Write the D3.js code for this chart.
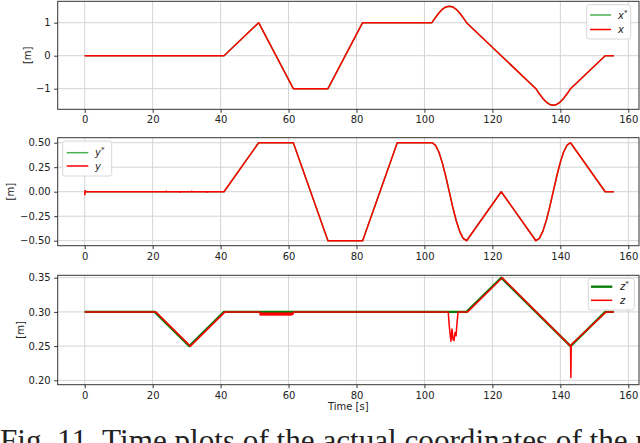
<!DOCTYPE html>
<html><head><meta charset="utf-8">
<script src="https://cdn.jsdelivr.net/npm/d3@7"></script>
<style>
html,body{margin:0;padding:0;background:#fff;overflow:hidden}
svg{display:block}
text{font-family:"DejaVu Sans",sans-serif;fill:#222}
</style></head>
<body>
<svg id="c" width="640" height="443"></svg>
<script>
// ---------- data ----------
const xTicks = [0, 20, 40, 60, 80, 100, 120, 140, 160];
const tXY = [0, 41, 51.2, 61.4, 71.6, 81.8, 92, 102.2, 103.22, 104.24, 105.26, 106.28, 107.3, 108.32, 109.34, 110.36, 111.38, 112.4, 122.6, 132.8, 133.82, 134.84, 135.86, 136.88, 137.9, 138.92, 139.94, 140.96, 141.98, 143, 153.2, 155.8];
const xRef = [0, 0, 1, -1, -1, 1, 1, 1, 1.155, 1.294, 1.405, 1.476, 1.5, 1.476, 1.405, 1.294, 1.155, 1, 0, -1, -1.155, -1.294, -1.405, -1.476, -1.5, -1.476, -1.405, -1.294, -1.155, -1, 0, 0];
const yRef = [0, 0, 0.5, 0.5, -0.5, -0.5, 0.5, 0.5, 0.476, 0.405, 0.294, 0.155, 0, -0.155, -0.294, -0.405, -0.476, -0.5, 0, -0.5, -0.476, -0.405, -0.294, -0.155, 0, 0.155, 0.294, 0.405, 0.476, 0.5, 0, 0];
// actual x equals reference (overlaid)
const xAct = xRef.slice();
// actual y: small start transient and blips
const tYAct = [0, 0.05, 0.15, 0.3, 23.9, 24.0, 24.1, 27.9, 28.0, 28.1, 31.4, 31.5, 31.6, 35.9, 36.0, 36.1, 41, 51.2, 61.4, 71.6, 81.8, 92, 102.2, 103.22, 104.24, 105.26, 106.28, 107.3, 108.32, 109.34, 110.36, 111.38, 112.4, 122.6, 132.8, 133.82, 134.84, 135.86, 136.88, 137.9, 138.92, 139.94, 140.96, 141.98, 143, 153.2, 155.8];
const yAct = [0, -0.03, 0.012, 0, 0, 0.006, 0, 0, -0.006, 0, 0, 0.005, 0, 0, -0.006, 0, 0, 0.5, 0.5, -0.5, -0.5, 0.5, 0.5, 0.476, 0.405, 0.294, 0.155, 0, -0.155, -0.294, -0.405, -0.476, -0.5, 0, -0.5, -0.476, -0.405, -0.294, -0.155, 0, 0.155, 0.294, 0.405, 0.476, 0.5, 0, 0];
const tZ = [0, 20.6, 30.8, 41, 112.4, 122.6, 143, 153.2, 155.8];
const zRef = [0.3, 0.3, 0.25, 0.3, 0.3, 0.35, 0.25, 0.3, 0.3];
const tZAct = [0, 20.9, 31.1, 41.3, 51.5, 51.7,
  51.9, 52.1, 52.3, 52.5, 52.7, 52.9, 53.1, 53.3, 53.5, 53.7, 53.9, 54.1, 54.3, 54.5, 54.7, 54.9, 55.1, 55.3, 55.5, 55.7,
  55.9, 56.1, 56.3, 56.5, 56.7, 56.9, 57.1, 57.3, 57.5, 57.7, 57.9, 58.1, 58.3, 58.5, 58.7, 58.9, 59.1, 59.3, 59.5, 59.7,
  59.9, 60.1, 60.3, 60.5, 60.7, 60.9, 61.1, 61.3, 61.5,
  107.0, 107.3, 107.5, 107.8, 108.1, 108.4, 108.7, 109.0, 109.3, 109.6, 109.9, 112.7, 122.9, 143.0, 143.1, 143.2, 143.4, 153.5, 155.8];
const zAct = [0.3, 0.3, 0.25, 0.3, 0.3, 0.2955,
  0.2985, 0.2955, 0.2985, 0.2955, 0.2985, 0.2955, 0.2985, 0.2955, 0.2985, 0.2955, 0.2985, 0.2955, 0.2985, 0.2955, 0.2985, 0.2955, 0.2985, 0.2955, 0.2985, 0.2955,
  0.2985, 0.2955, 0.2985, 0.2955, 0.2985, 0.2955, 0.2985, 0.2955, 0.2985, 0.2955, 0.2985, 0.2955, 0.2985, 0.2955, 0.2985, 0.2955, 0.2985, 0.2955, 0.2985, 0.2955,
  0.2985, 0.2955, 0.2985, 0.2955, 0.2985, 0.2955, 0.2985, 0.2965, 0.3,
  0.3, 0.28, 0.27, 0.257, 0.275, 0.26, 0.258, 0.27, 0.265, 0.285, 0.3, 0.3, 0.35, 0.25, 0.204, 0.25, 0.253, 0.3, 0.3];
const yTicksTop = [-1, 0, 1];
const yTicksMid = [-0.5, -0.25, 0, 0.25, 0.5];
const yTicksBot = [0.20, 0.25, 0.30, 0.35];

// ---------- layout ----------
const svg = d3.select("#c");
const L = 57.7, R = 639;
const x = d3.scaleLinear().domain([0, 160]).range([84.7, 628.3]);

const panels = [
  {top: 1.3, bot: 109.3, dom: [-1, 1], rng: [88.7, 22.7], ticks: yTicksTop, fmt: d => d3.format("d")(d).replace("-", "\u2212"),
   ref: [tXY, xRef], act: [tXY, xAct], ylabX: 27.7, refColor: "#4caf50", refW: 1.5,
   leg: {x: 586.7, y: 4.7, w: 44, h: 34.3, r1: 15, r2: 29.5, lx1: 590, lx2: 611, tx: 618, sym: "x"}},
  {top: 137.7, bot: 245.7, dom: [-0.5, 0.5], rng: [240.7, 142.7], ticks: yTicksMid, fmt: d => d3.format(".2f")(d).replace("-", "\u2212"),
   ref: [tXY, yRef], act: [tYAct, yAct], ylabX: 10, refColor: "#4caf50", refW: 1.5,
   leg: {x: 62.7, y: 141, w: 49, h: 35, r1: 152.7, r2: 166, lx1: 66.7, lx2: 88.3, tx: 95, sym: "y"}},
  {top: 275.3, bot: 384.7, dom: [0.20, 0.35], rng: [380.3, 277.7], ticks: yTicksBot, fmt: d3.format(".2f"),
   ref: [tZ, zRef], act: [tZAct, zAct], ylabX: 20, refColor: "#007a00", refW: 2.3,
   leg: {x: 588.3, y: 278.3, w: 46, h: 31.7, r1: 286.7, r2: 300.3, lx1: 591, lx2: 612.3, tx: 620, sym: "z"}}
];

panels.forEach((p, i) => {
  const y = d3.scaleLinear().domain(p.dom).range(p.rng);
  const g = svg.append("g");
  const cid = "clip" + i;
  svg.append("clipPath").attr("id", cid).append("rect")
    .attr("x", L).attr("y", p.top).attr("width", R - L).attr("height", p.bot - p.top);
  // grid
  g.selectAll(".gx").data(xTicks).join("line")
    .attr("x1", d => x(d)).attr("x2", d => x(d)).attr("y1", p.top).attr("y2", p.bot)
    .attr("stroke", "#d4d4d4").attr("stroke-width", 1);
  g.selectAll(".gy").data(p.ticks).join("line")
    .attr("y1", d => y(d)).attr("y2", d => y(d)).attr("x1", L).attr("x2", R)
    .attr("stroke", "#d4d4d4").attr("stroke-width", 1);
  // lines
  const mk = (tArr, vArr) => d3.line().x(d => x(tArr[d])).y(d => y(vArr[d]))(d3.range(tArr.length));
  const lg = g.append("g").attr("clip-path", `url(#${cid})`);
  lg.append("path").attr("d", mk(p.ref[0], p.ref[1])).attr("fill", "none")
    .attr("stroke", p.refColor).attr("stroke-width", p.refW).attr("stroke-linejoin", "round");
  lg.append("path").attr("d", mk(p.act[0], p.act[1])).attr("fill", "none")
    .attr("stroke", "#ff0000").attr("stroke-width", 1.5).attr("stroke-linejoin", "round");
  // axes
  const ax = d3.axisBottom(x).tickValues(xTicks).tickSize(3.5).tickPadding(3.5).tickFormat(d3.format("d"));
  const ay = d3.axisLeft(y).tickValues(p.ticks).tickSize(3.5).tickPadding(3.5).tickFormat(p.fmt);
  const gx = g.append("g").attr("transform", `translate(0,${p.bot})`).call(ax);
  const gy = g.append("g").attr("transform", `translate(${L},0)`).call(ay);
  [gx, gy].forEach(a => {
    a.select(".domain").remove();
    a.selectAll("line").attr("stroke", "#333");
    a.selectAll("text").attr("font-size", 10).attr("fill", "#222").style("font-family", "DejaVu Sans");
  });
  // spines
  g.append("rect").attr("x", L).attr("y", p.top).attr("width", R - L).attr("height", p.bot - p.top)
    .attr("fill", "none").attr("stroke", "#333").attr("stroke-width", 1);
  // ylabel
  g.append("text").attr("transform", `translate(${p.ylabX},${(p.top + p.bot) / 2}) rotate(-90)`)
    .attr("text-anchor", "middle").attr("dominant-baseline", "central").attr("font-size", 10).text("[m]");
  // legend
  const lgd = p.leg;
  const leg = g.append("g");
  leg.append("rect").attr("x", lgd.x).attr("y", lgd.y).attr("width", lgd.w).attr("height", lgd.h)
    .attr("rx", 2.5).attr("fill", "rgba(255,255,255,0.85)").attr("stroke", "#d8d8d8").attr("stroke-width", 1);
  [[lgd.r1, p.refColor, p.refW, true], [lgd.r2, "#ff0000", 1.5, false]].forEach(([ry, col, w, star]) => {
    leg.append("line").attr("x1", lgd.lx1).attr("x2", lgd.lx2).attr("y1", ry).attr("y2", ry)
      .attr("stroke", col).attr("stroke-width", w);
    const t = leg.append("text").attr("x", lgd.tx).attr("y", ry + 3.5).attr("font-size", 10);
    t.append("tspan").attr("font-style", "italic").text(lgd.sym);
    if (star) t.append("tspan").attr("font-size", 7).attr("dy", -4).text("*");
  });
});

// xlabel
svg.append("text").attr("x", 348.3).attr("y", 410).attr("text-anchor", "middle").attr("font-size", 10).text("Time [s]");

// caption (cut off at bottom edge, as in the source figure)
const cap = svg.append("text").attr("x", 0).attr("y", 451)
  .style("font-family", "'Liberation Serif', 'Times New Roman', serif").attr("font-size", 30).attr("fill", "#000");
cap.text("Fig. 11. Time plots of the actual coordinates of the");
const w0 = cap.node().getComputedTextLength();
const fs = 30 * 628 / w0;
cap.attr("font-size", fs).text("Fig. 11. Time plots of the actual coordinates of the robot");
</script>
</body></html>
